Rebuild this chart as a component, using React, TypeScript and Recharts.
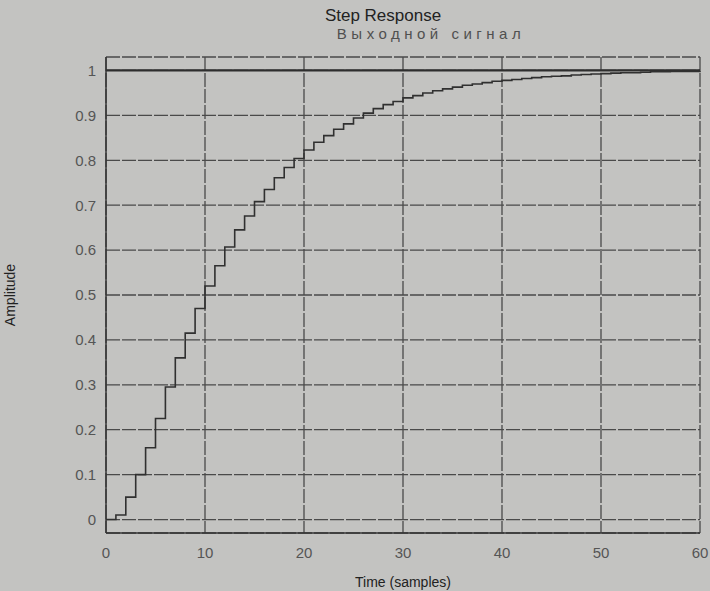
import { LineChart, Line, XAxis, YAxis, CartesianGrid, ReferenceLine, Label } from "recharts";

// sample index k = 0..60, amplitude
const samples = [
  0, 1, 2, 3, 4, 5, 6, 7, 8, 9, 10, 11, 12, 13, 14, 15, 16, 17, 18, 19, 20,
  21, 22, 23, 24, 25, 26, 27, 28, 29, 30, 31, 32, 33, 34, 35, 36, 37, 38, 39, 40,
  41, 42, 43, 44, 45, 46, 47, 48, 49, 50, 51, 52, 53, 54, 55, 56, 57, 58, 59, 60,
];
const amplitude = [
  0, 0.01, 0.05, 0.1, 0.16, 0.225, 0.295, 0.36, 0.415, 0.47, 0.52,
  0.565, 0.607, 0.645, 0.676, 0.708, 0.735, 0.761, 0.784, 0.804, 0.823,
  0.84, 0.855, 0.869, 0.881, 0.894, 0.905, 0.915, 0.924, 0.931, 0.939,
  0.944, 0.95, 0.955, 0.959, 0.963, 0.967, 0.97, 0.973, 0.976, 0.978,
  0.98, 0.982, 0.984, 0.986, 0.987, 0.988, 0.99, 0.991, 0.992, 0.993,
  0.994, 0.995, 0.995, 0.996, 0.997, 0.997, 0.998, 0.998, 0.998, 0.999,
];
const xTicks = [0, 10, 20, 30, 40, 50, 60];
const yTicks = [0, 0.1, 0.2, 0.3, 0.4, 0.5, 0.6, 0.7, 0.8, 0.9, 1];
const steadyState = 1;

const data = samples.map((k, i) => ({ k, y: amplitude[i] }));

const font = "'Liberation Sans', Arial, sans-serif";

export default function App() {
  return (
    <div
      style={{
        position: "absolute",
        left: 0,
        top: 0,
        width: 710,
        height: 591,
        background: "#c3c3c1",
        fontFamily: font,
        overflow: "hidden",
      }}
    >
      <div style={{ position: "absolute", left: 0, width: 766, top: 6, textAlign: "center", fontSize: 17, color: "#222" }}>
        Step Response
      </div>
      <div
        style={{
          position: "absolute",
          left: 0,
          width: 862,
          top: 25,
          textAlign: "center",
          fontSize: 15,
          letterSpacing: 4.5,
          color: "#505050",
        }}
      >
        Выходной сигнал
      </div>
      <LineChart width={710} height={591} data={data} margin={{ top: 57, right: 10, bottom: 0, left: 0 }}>
        <CartesianGrid stroke="#4a4a4a" strokeDasharray="14 2" strokeWidth={1.3} />
        <XAxis
          dataKey="k"
          type="number"
          domain={[0, 60]}
          ticks={xTicks}
          height={58}
          axisLine={{ stroke: "#333", strokeWidth: 1.5 }}
          tickLine={false}
          tick={{ fill: "#555", fontSize: 15, fontFamily: font }}
          tickMargin={8}
        >
          <Label value="Time (samples)" position="insideBottom" offset={0} dy={-4} style={{ fill: "#222", fontSize: 14, fontFamily: font }} />
        </XAxis>
        <YAxis
          type="number"
          domain={[-0.03, 1.03]}
          ticks={yTicks}
          width={106}
          axisLine={{ stroke: "#333", strokeWidth: 1.5 }}
          tickLine={false}
          tickFormatter={(v: number) => String(v)}
          tick={{ fill: "#555", fontSize: 15, fontFamily: font }}
          tickMargin={4}
        >
          <Label
            value="Amplitude"
            angle={-90}
            position="insideLeft"
            offset={10}
            style={{ fill: "#222", fontSize: 14, fontFamily: font, textAnchor: "middle" }}
          />
        </YAxis>
        <ReferenceLine y={steadyState} stroke="#2e2e2e" strokeWidth={2.2} />
        <Line
          type="stepAfter"
          dataKey="y"
          stroke="#303030"
          strokeWidth={1.6}
          dot={false}
          isAnimationActive={false}
        />
      </LineChart>
    </div>
  );
}
